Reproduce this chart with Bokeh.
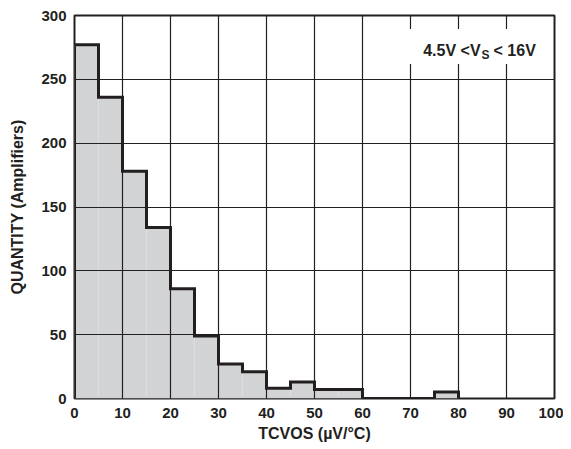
from bokeh.plotting import figure
from bokeh.models import FixedTicker, BoxAnnotation, Label
from bokeh.embed import file_html
from bokeh.resources import INLINE

# ---- data ----
bin_left = [0, 5, 10, 15, 20, 25, 30, 35, 40, 45, 50, 55, 60, 65, 70, 75]
bin_right = [5, 10, 15, 20, 25, 30, 35, 40, 45, 50, 55, 60, 65, 70, 75, 80]
counts = [277, 236, 178, 134, 86, 49, 27, 21, 8, 13, 7, 7, 0, 0, 0, 5]
x_ticks = [0, 10, 20, 30, 40, 50, 60, 70, 80, 90, 100]
y_ticks = [0, 50, 100, 150, 200, 250, 300]

INK = "#231f20"
FONT = "Liberation Sans"

p = figure(frame_width=480, frame_height=383, x_range=(0, 100), y_range=(0, 300),
           output_backend="svg", toolbar_location=None,
           min_border_left=74, min_border_right=9, min_border_top=15, min_border_bottom=43)
p.background_fill_color = "white"
p.border_fill_color = "white"
p.outline_line_color = INK
p.outline_line_width = 2

for ax in (p.xaxis[0], p.yaxis[0]):
    ax.axis_line_color = None
    ax.major_tick_line_color = None
    ax.minor_tick_line_color = None
    ax.major_tick_out = 0
    ax.major_tick_in = 0
    ax.major_label_text_font = FONT
    ax.major_label_text_font_style = "bold"
    ax.major_label_text_font_size = "15px"
    ax.major_label_text_color = INK
    ax.axis_label_text_font = FONT
    ax.axis_label_text_font_style = "bold"
    ax.axis_label_text_font_size = "16px"
    ax.axis_label_text_color = INK

p.xaxis.ticker = FixedTicker(ticks=x_ticks)
p.yaxis.ticker = FixedTicker(ticks=y_ticks)
p.xaxis.axis_label = "TCVOS (µV/°C)"
p.yaxis.axis_label = "QUANTITY (Amplifiers)"
p.xaxis.major_label_standoff = 9
p.yaxis.major_label_standoff = 8
p.xaxis.axis_label_standoff = 4
p.yaxis.axis_label_standoff = 12

p.xgrid.ticker = FixedTicker(ticks=x_ticks)
p.ygrid.ticker = FixedTicker(ticks=y_ticks)
for g in (p.xgrid[0], p.ygrid[0]):
    g.grid_line_color = INK
    g.grid_line_width = 1.2
    g.grid_line_alpha = 1
    g.level = "underlay"

# filled bars (below the grid)
fl = [l for l, c in zip(bin_left, counts) if c > 0]
fr = [r for r, c in zip(bin_right, counts) if c > 0]
fc = [c for c in counts if c > 0]
p.quad(left=fl, right=fr, bottom=0, top=fc, fill_color="#d1d3d4",
       fill_alpha=1, line_color=None, level="image")

# step outline derived from data
xs, ys = [bin_left[0]], [0]
for l, r, c in zip(bin_left, bin_right, counts):
    xs += [l, r]
    ys += [c, c]
xs.append(bin_right[-1])
ys.append(0)
p.line(xs, ys, line_color=INK, line_width=3, line_join="miter")

# annotation box
p.add_layout(BoxAnnotation(left=69, right=99.6, bottom=262, top=289.5,
                           fill_color="white", fill_alpha=1, line_color=None))
p.add_layout(Label(x=84.6, y=272.5, text="4.5V <V", text_align="right",
                   text_baseline="alphabetic", text_font=FONT, text_font_style="bold",
                   text_font_size="16px", text_color=INK))
p.add_layout(Label(x=84.8, y=269.3, text="S", text_align="left",
                   text_baseline="alphabetic", text_font=FONT, text_font_style="bold",
                   text_font_size="12px", text_color=INK))
p.add_layout(Label(x=87.3, y=272.5, text="< 16V", text_align="left",
                   text_baseline="alphabetic", text_font=FONT, text_font_style="bold",
                   text_font_size="16px", text_color=INK))

open("out.html", "w").write(file_html(p, INLINE))
